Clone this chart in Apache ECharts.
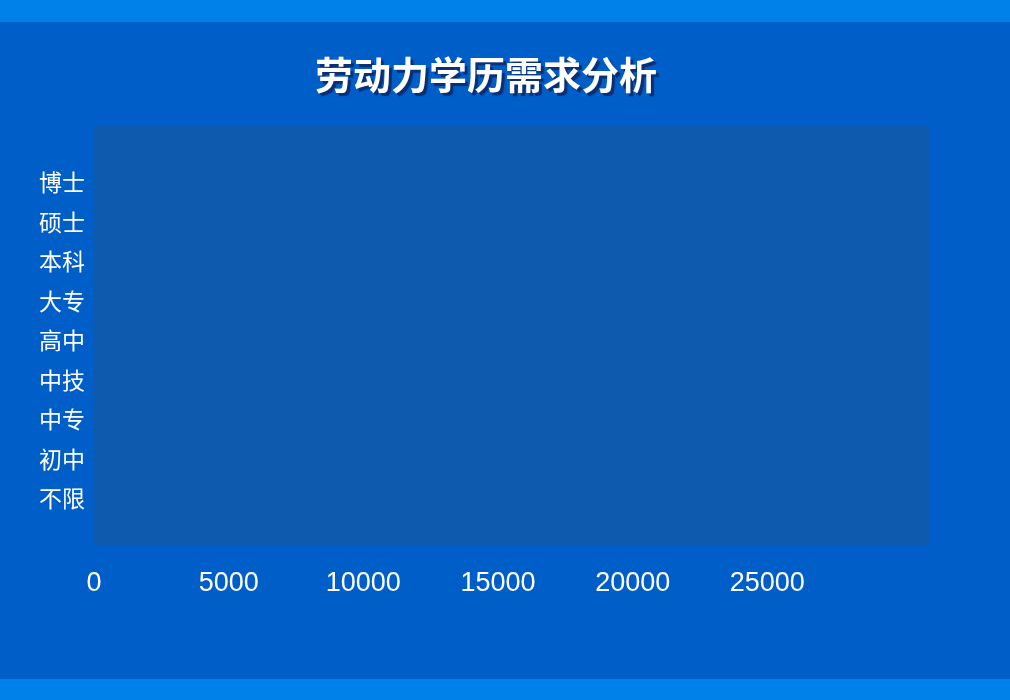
<!DOCTYPE html>
<html>
<head>
<meta charset="utf-8">
<script src="https://cdn.jsdelivr.net/npm/echarts@6/dist/echarts.min.js"></script>
<style>
  html, body { margin: 0; padding: 0; background: #005ec8; }
  #main { width: 1010px; height: 700px; }
</style>
</head>
<body>
<div id="main"></div>
<script>
// Data
const titleText = '劳动力学历需求分析';
const categories = ['博士', '硕士', '本科', '大专', '高中', '中技', '中专', '初中', '不限'];
// No bars are visible in the reference picture
const values = [null, null, null, null, null, null, null, null, null];
const xMin = 0;
const xMax = 30000;
const xInterval = 5000;

const chart = echarts.init(document.getElementById('main'), null, { renderer: 'canvas' });

const option = {
  backgroundColor: '#005ec8',
  animation: false,
  title: {
    text: titleText,
    left: 315,
    top: 56,
    padding: 0,
    textStyle: {
      color: '#ffffff',
      fontSize: 38,
      fontWeight: 'bold',
      fontFamily: '"Noto Sans CJK SC", sans-serif',
      textShadowColor: '#0b2f74',
      textShadowOffsetX: 3,
      textShadowOffsetY: 3,
      textShadowBlur: 1
    }
  },
  graphic: [
    { type: 'rect', left: 0, top: 0, shape: { width: 1010, height: 22 }, style: { fill: '#0081e9' }, silent: true },
    { type: 'rect', left: 0, top: 679, shape: { width: 1010, height: 21 }, style: { fill: '#0081e9' }, silent: true }
  ],
  grid: [
    {
      left: 93, right: 80, top: 126, bottom: 154,
      show: true, backgroundColor: '#0d5aae', borderWidth: 0
    },
    {
      left: 94, right: 108, top: 163, bottom: 182,
      show: false
    }
  ],
  xAxis: [
    { gridIndex: 0, type: 'value', show: false },
    {
      gridIndex: 1,
      type: 'value',
      min: xMin,
      max: xMax,
      interval: xInterval,
      axisLine: { show: false },
      axisTick: { show: false },
      splitLine: { show: false },
      axisLabel: {
        color: '#ffffff',
        fontSize: 27,
        margin: 52,
        showMaxLabel: false,
        formatter: function (v) { return String(v); },
        fontFamily: '"Liberation Sans", Arial, sans-serif'
      }
    }
  ],
  yAxis: [
    { gridIndex: 0, type: 'category', show: false, data: categories },
    {
      gridIndex: 1,
      type: 'category',
      inverse: true,
      data: categories,
      axisLine: { show: false },
      axisTick: { show: false },
      splitLine: { show: false },
      axisLabel: {
        color: '#ffffff',
        fontSize: 23,
        margin: 9,
        fontFamily: '"Noto Sans CJK SC", sans-serif'
      }
    }
  ],
  series: [
    {
      type: 'bar',
      xAxisIndex: 1,
      yAxisIndex: 1,
      data: values,
      itemStyle: { color: '#33aaff' }
    }
  ]
};

chart.setOption(option);
</script>
</body>
</html>
